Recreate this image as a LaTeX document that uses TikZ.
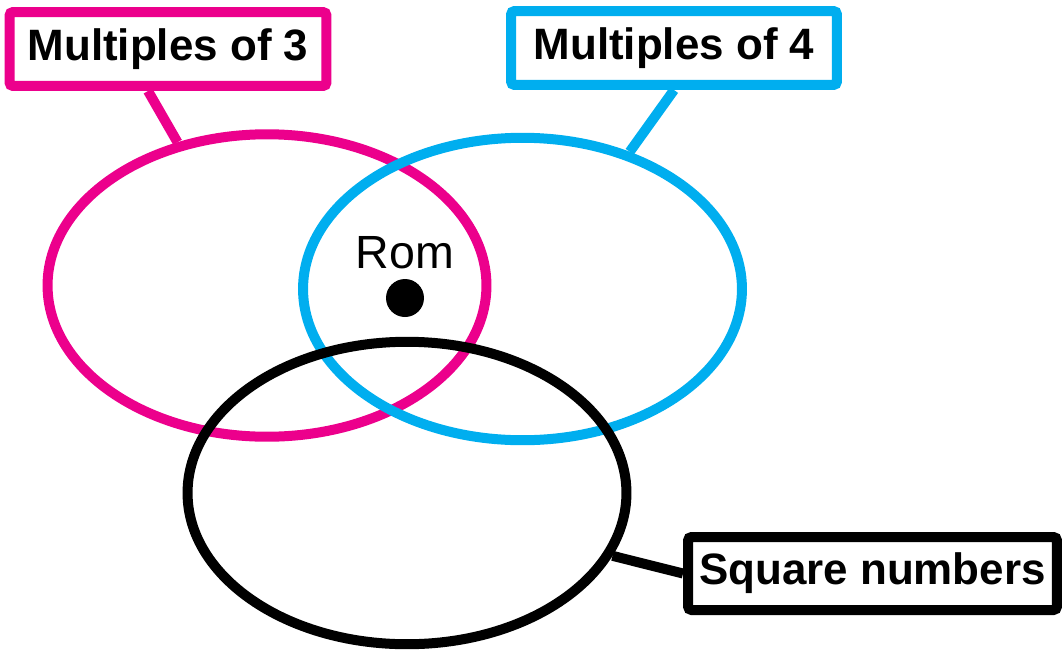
\documentclass[tikz,border=0pt]{standalone}
\usepackage{fontspec}
\setmainfont{Liberation Sans}
\usepackage{tikz}
\usetikzlibrary{shapes.geometric}
\usepackage{xcolor}

\definecolor{setpink}{HTML}{EC008C}
\definecolor{setblue}{HTML}{00AEEF}

\begin{document}
\begin{tikzpicture}[
    x=0.02cm, y=-0.02cm,
    setring/.style={draw=#1, ellipse, line width=0.2cm, minimum width=8.78cm, minimum height=6.05cm},
    tag/.style={draw=#1, rounded corners=2pt, line width=0.2cm, fill=white, text=black, minimum height=1.48cm, font=\fontsize{25}{30}\selectfont\bfseries},
    leg/.style={line width=0.2cm}
]
\useasboundingbox (0,0) rectangle (1062,650);

\node[setring=setpink] (m3set) at (267,285.5) {};
\node[setring=setblue] (m4set) at (522.5,289) {};
\node[setring=black] (sqset) at (407,493) {};

\node[tag=setpink, minimum width=6.34cm] (m3label) at (168,49) {Multiples of 3};
\node[tag=setblue, minimum width=6.52cm] (m4label) at (674,48) {Multiples of 4};
\node[tag=black, minimum width=7.38cm, minimum height=1.46cm] (sqlabel) at (872.5,573.5) {Square numbers};

\node[anchor=base, font=\fontsize{26.5}{30}\selectfont] (romname) at (405,268) {Rom};
\node[circle, fill=black, inner sep=0pt, minimum size=0.76cm] (romdot) at (405,298) {};

\draw[leg, setpink] ([xshift=-0.4cm]m3label.south) -- (m3set.122);
\draw[leg, setblue] (m4label.south) -- (m4set.52);
\draw[leg, black] (sqlabel.west) -- (sqset.-17);

\end{tikzpicture}
\end{document}
